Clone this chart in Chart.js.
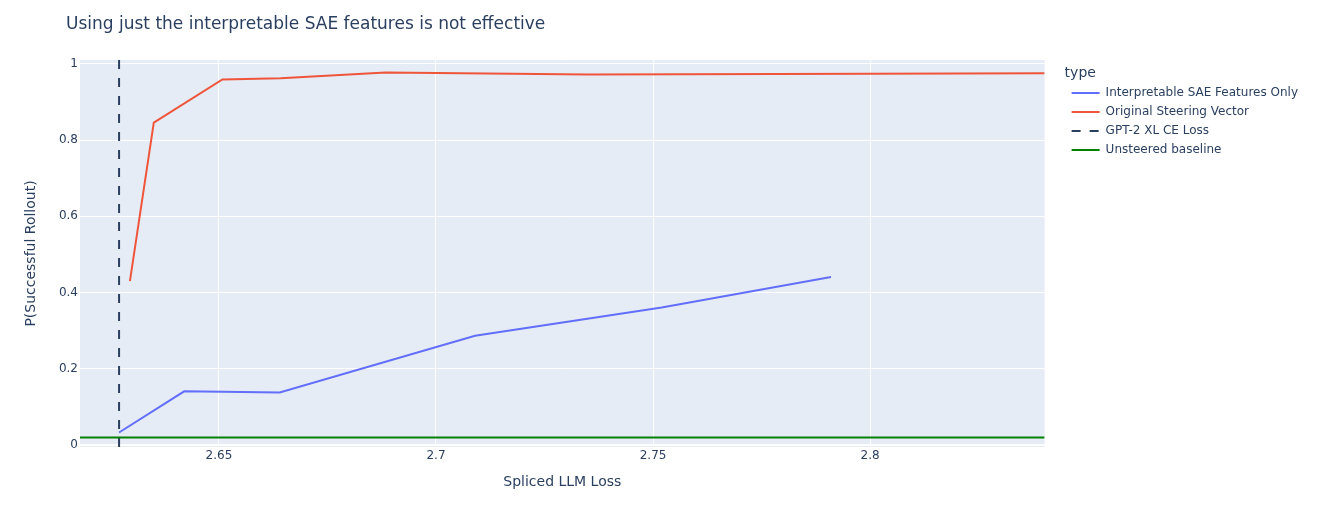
<!DOCTYPE html>
<html>
<head>
<meta charset="utf-8">
<script src="https://cdn.jsdelivr.net/npm/chart.js@4.4.1/dist/chart.umd.min.js"></script>
<style>
  body { margin: 0; background: #fff; }
  #wrap { width: 1317px; height: 525px; }
</style>
</head>
<body>
<div id="wrap"><canvas id="chart"></canvas></div>
<script>
// data
const chartTitle = "Using just the interpretable SAE features is not effective";
const saeLoss = [2.627, 2.642, 2.664, 2.709, 2.752, 2.791];
const saeProb = [0.033, 0.141, 0.138, 0.287, 0.361, 0.441];
const steerLoss = [2.6295, 2.635, 2.6508, 2.6642, 2.6884, 2.735, 2.80, 2.8402];
const steerProb = [0.43, 0.846, 0.959, 0.962, 0.977, 0.972, 0.974, 0.975];
const gpt2CeLoss = 2.627;
const unsteeredBaseline = 0.02;
const xRange = [2.618, 2.8402];
const yRange = [-0.005, 1.01];
const xTicks = [2.65, 2.7, 2.75, 2.8];
const yTicks = [0, 0.2, 0.4, 0.6, 0.8, 1];

const textColor = "#2a3f5f";
const fontFamily = "'DejaVu Sans', Verdana, sans-serif";
const legendGap = 20; // espace entre le cadre et la légende

function toPoints(xs, ys) {
    return xs.map((x, i) => ({ x: x, y: ys[i] }));
}

// fond gris-bleu du cadre + titre + décalage de la légende
const plotBackground = {
    id: "plotBackground",
    beforeLayout(chart) {
        const lg = chart.legend;
        if (!lg || lg._gapWrapped) return;
        lg._gapWrapped = true;
        const fit = lg.fit, draw = lg.draw;
        lg.fit = function () { fit.call(this); this.width += legendGap; };
        lg.draw = function () {
            this.ctx.save();
            this.ctx.translate(legendGap, 0);
            draw.call(this);
            this.ctx.restore();
        };
    },
    beforeDraw(chart) {
        const { ctx, chartArea } = chart;
        ctx.save();
        ctx.fillStyle = "#E5ECF6";
        ctx.fillRect(chartArea.left, chartArea.top, chartArea.right - chartArea.left, chartArea.bottom - chartArea.top);
        ctx.restore();
    },
    afterDraw(chart) {
        const ctx = chart.ctx;
        ctx.save();
        ctx.font = "17px " + fontFamily;
        ctx.fillStyle = textColor;
        ctx.textBaseline = "middle";
        ctx.fillText(chartTitle, chart.chartArea.left - 14, 25);
        ctx.restore();
    }
};

const datasets = [
    { label: "Interpretable SAE Features Only", data: toPoints(saeLoss, saeProb), borderColor: "#636efa", order: 3 },
    { label: "Original Steering Vector", data: toPoints(steerLoss, steerProb), borderColor: "#EF553B", order: 2 },
    { label: "GPT-2 XL CE Loss", data: toPoints([gpt2CeLoss, gpt2CeLoss], yRange), borderColor: "#2a3f5f", borderDash: [9, 9], order: 1 },
    { label: "Unsteered baseline", data: toPoints(xRange, [unsteeredBaseline, unsteeredBaseline]), borderColor: "green", order: 0 }
];
datasets.forEach(d => {
    d.borderWidth = 2;
    d.pointRadius = 0;
    d.fill = false;
    d.tension = 0;
});

const chart = new Chart(document.getElementById("chart"), {
    type: "line",
    data: { datasets: datasets },
    plugins: [plotBackground],
    options: {
        responsive: true,
        maintainAspectRatio: false,
        animation: false,
        layout: { padding: { top: 60, bottom: 33.8, left: 0, right: 9 } },
        plugins: {
            tooltip: { enabled: false },
            legend: {
                position: "right",
                align: "start",
                title: {
                    display: true,
                    text: "type",
                    position: "start",
                    color: textColor,
                    font: { size: 14, family: fontFamily, lineHeight: 1 },
                    padding: { top: 6, bottom: 0 }
                },
                labels: {
                    color: textColor,
                    font: { size: 12, family: fontFamily },
                    usePointStyle: true,
                    pointStyle: "line",
                    pointStyleWidth: 28,
                    padding: 7,
                    generateLabels(chart) {
                        return chart.data.datasets.map((d, i) => ({
                            text: d.label,
                            strokeStyle: d.borderColor,
                            fillStyle: d.borderColor,
                            fontColor: textColor,
                            lineWidth: 2,
                            lineDash: d.borderDash || [],
                            pointStyle: "line",
                            hidden: false,
                            datasetIndex: i
                        }));
                    }
                }
            }
        },
        scales: {
            x: {
                type: "linear",
                min: xRange[0],
                max: xRange[1],
                afterBuildTicks(scale) { scale.ticks = xTicks.map(v => ({ value: v })); },
                ticks: {
                    color: textColor,
                    font: { size: 12, family: fontFamily },
                    padding: 2,
                    maxRotation: 0,
                    callback: v => String(v)
                },
                grid: { color: "#ffffff", lineWidth: 1, drawTicks: false },
                border: { display: false },
                title: {
                    display: true,
                    text: "Spliced LLM Loss",
                    color: textColor,
                    font: { size: 14, family: fontFamily },
                    padding: { top: 9, bottom: 0 }
                }
            },
            y: {
                type: "linear",
                min: yRange[0],
                max: yRange[1],
                afterBuildTicks(scale) { scale.ticks = yTicks.map(v => ({ value: v })); },
                afterFit(scale) { scale.width = 80; },
                ticks: {
                    color: textColor,
                    font: { size: 12, family: fontFamily },
                    padding: 2,
                    callback: v => String(v)
                },
                grid: {
                    color: "#ffffff",
                    lineWidth: ctx => (ctx.tick && ctx.tick.value === 0 ? 2 : 1),
                    drawTicks: false
                },
                border: { display: false },
                title: {
                    display: true,
                    text: "P(Successful Rollout)",
                    color: textColor,
                    font: { size: 14, family: fontFamily },
                    padding: { top: 22.6, bottom: 0 }
                }
            }
        }
    }
});
</script>
</body>
</html>
